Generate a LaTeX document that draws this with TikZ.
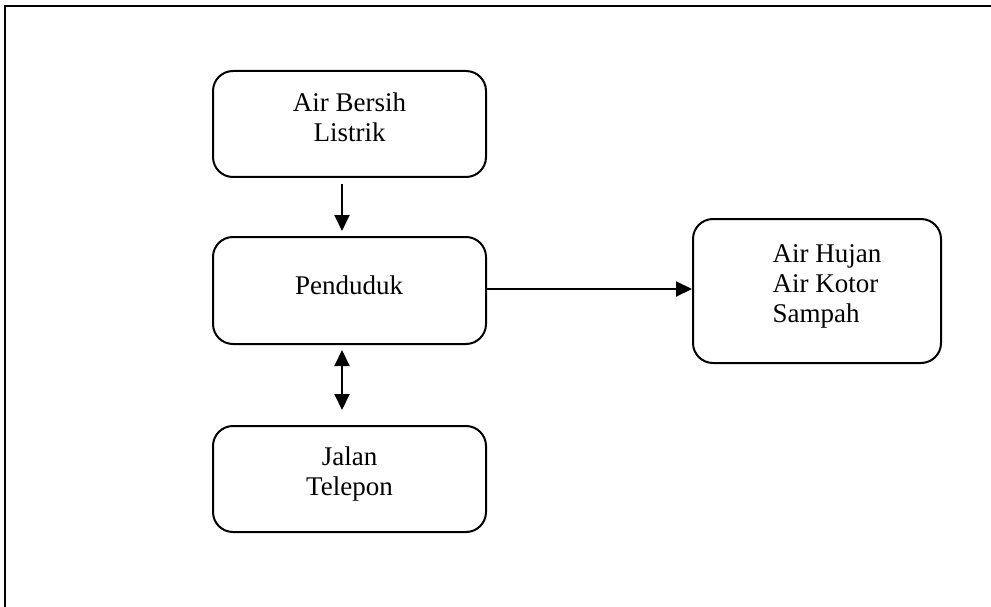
\documentclass[tikz,border=0pt]{standalone}
\usepackage{fontspec}
\setmainfont{Liberation Serif}
\usetikzlibrary{arrows.meta,calc}
\begin{document}
\begin{tikzpicture}[x=1pt,y=-1pt,
  box/.style={draw, line width=2pt, rounded corners=20pt, minimum width=273pt, minimum height=106pt, inner sep=0pt},
  boxtext/.style={font=\fontsize{27}{30}\selectfont, inner sep=0pt, align=center},
  arr/.style={line width=2pt, -{Triangle[length=16pt,width=15pt]}},
  darr/.style={line width=2pt, {Triangle[length=16pt,width=15pt]}-{Triangle[length=16pt,width=15pt]}}]
\useasboundingbox (0,0) rectangle (991,607);
\draw[line width=2.4pt] (5,607) -- (5,6) -- (991,6);

\node[box] (sumber) at (349.5,124) {};
\node[box, minimum height=107pt] (warga) at (349.5,290.5) {};
\node[box] (prasarana) at (349.5,479) {};
\node[box, minimum width=248pt, minimum height=144pt] (limbah) at (817,291) {};

\node[boxtext, anchor=north] (tsumber) at ($(sumber.center)+(0,-31.4)$) {Air Bersih\\Listrik};
\node[boxtext, anchor=north] (twarga) at ($(warga.center)+(-0.5,-14.9)$) {Penduduk};
\node[boxtext, anchor=north] (tprasarana) at ($(prasarana.center)+(0,-32.4)$) {Jalan\\Telepon};
\node[boxtext, align=left, anchor=north west] (tlimbah) at ($(limbah.center)+(-44.5,-46.9)$) {Air Hujan\\Air Kotor\\Sampah};

\draw[arr] ([xshift=-7.5pt,yshift=-6pt]sumber.south) -- ([xshift=-7.5pt,yshift=5pt]warga.north);
\draw[arr] ([yshift=1.5pt]warga.east) -- ([yshift=1.5pt]warga.east -| limbah.west);
\draw[darr] ([xshift=-7.5pt,yshift=-5pt]warga.south) -- ([xshift=-7.5pt,yshift=15pt]prasarana.north);
\end{tikzpicture}
\end{document}
